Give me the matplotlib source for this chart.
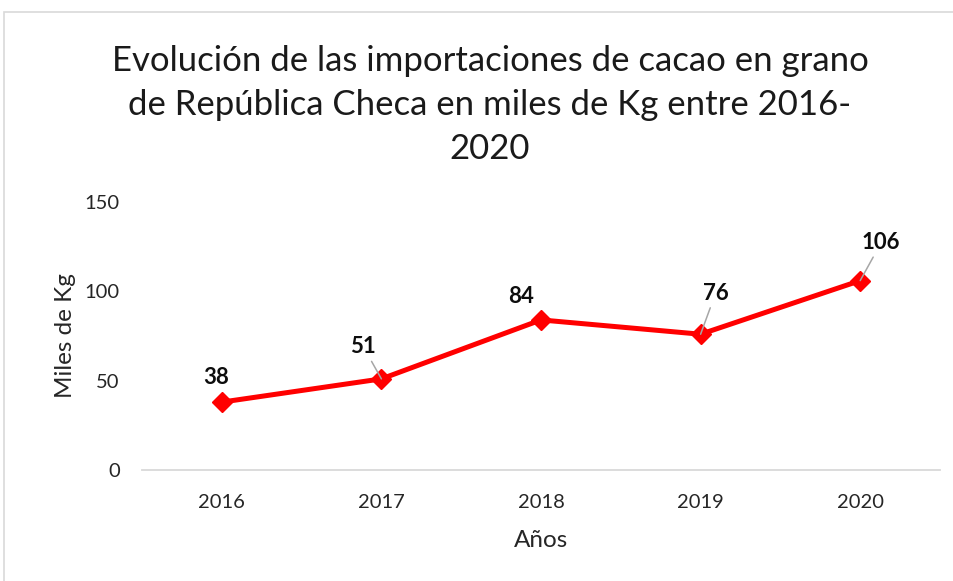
"""Importaciones de cacao en grano de República Checa, 2016-2020."""

import matplotlib
import matplotlib.pyplot as plt
from matplotlib.patches import Rectangle

matplotlib.use("Agg")

years = ["2016", "2017", "2018", "2019", "2020"]
imports = [38, 51, 84, 76, 106]
# label offsets in pixels (dx, dy) and whether a leader line is drawn
label_offsets = [(-6, 25), (-18, 32), (-20, 23), (15, 41), (21, 38)]
leader = [False, True, False, True, True]

plt.rcParams["font.family"] = ["Lato", "DejaVu Sans"]

W, H = 954, 581
fig = plt.figure(figsize=(W / 100, H / 100), dpi=100)

# chart border (extends past the right/bottom edges like the screenshot)
fig.patches.append(Rectangle((4 / W, -0.1), 1.2, 1.1 - 12 / H,
                             transform=fig.transFigure, fill=False,
                             edgecolor="#d9d9d9", lw=1.2))

ax = fig.add_axes([142 / W, 1 - 470 / H, (940 - 142) / W, (470 - 202) / H])
x = list(range(len(years)))
ax.plot(x, imports, color="#ff0000", lw=3.6, marker="D", ms=10,
        markeredgecolor="#ff0000", zorder=3)

for xi, v, (dx, dy), ll in zip(x, imports, label_offsets, leader):
    props = None
    if ll:
        props = dict(arrowstyle="-", color="#a6a6a6", lw=1.1, shrinkA=1, shrinkB=0)
    ax.annotate(str(v), (xi, v), xytext=(dx, dy), textcoords="offset pixels",
                ha="center", va="center", fontsize=16, fontweight="bold",
                color="#0d0d0d", arrowprops=props, zorder=4)

ax.set_xlim(-0.5, len(years) - 0.5)
ax.set_ylim(0, 150)
ax.set_yticks([0, 50, 100, 150])
ax.set_xticks(x)
ax.set_xticklabels(years)
ax.tick_params(axis="both", length=0, labelsize=14.5, colors="#262626")
ax.tick_params(axis="y", pad=16)
ax.tick_params(axis="x", pad=17)
for side in ["top", "right", "left"]:
    ax.spines[side].set_visible(False)
ax.spines["bottom"].set_color("#d9d9d9")
ax.spines["bottom"].set_linewidth(1.3)

ax.set_xlabel("Años", fontsize=17.5, color="#262626", labelpad=14)
ax.set_ylabel("Miles de Kg", fontsize=17.5, color="#262626", labelpad=6)

fig.text(490 / W, 1 - 105 / H,
         "Evolución de las importaciones de cacao en grano\n"
         "de República Checa en miles de Kg entre 2016-\n2020",
         ha="center", va="center", fontsize=25, color="#1a1a1a",
         linespacing=1.45)

fig.savefig("out.png", dpi=100)
